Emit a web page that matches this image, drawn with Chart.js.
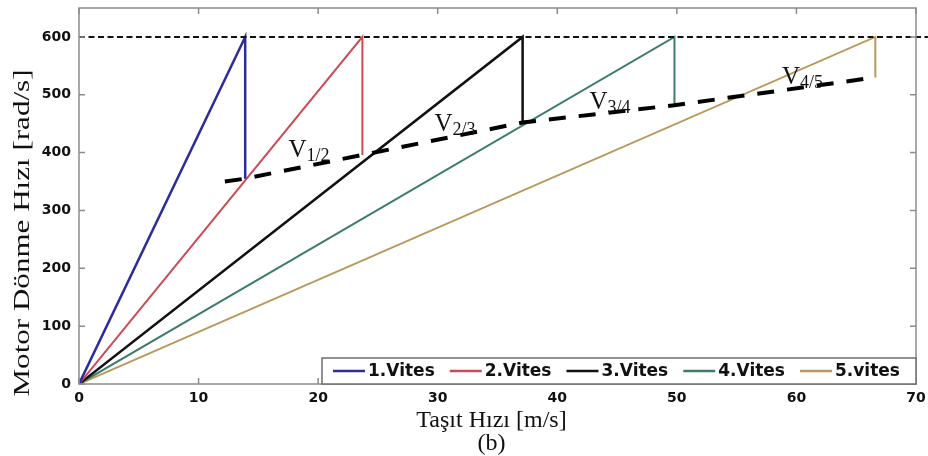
<!DOCTYPE html>
<html>
<head>
<meta charset="utf-8">
<script src="https://cdn.jsdelivr.net/npm/chart.js@4.4.1/dist/chart.umd.min.js"></script>
<style>
  html, body { margin: 0; padding: 0; background: #fff; }
  #wrap { width: 928px; height: 456px; }
</style>
</head>
<body>
<div id="wrap"><canvas id="c"></canvas></div>
<script>
// gears shown in the legend
const gearNames = ['1.Vites', '2.Vites', '3.Vites', '4.Vites', '5.vites'];
// vehicle speed (m/s) at which each gear hits the engine limit
const shiftSpeed = [13.9, 23.7, 37.1, 49.8, 66.6];
// engine speed (rad/s) right after the upshift
const dropOmega = [355, 396, 452, 482, 530];
const omegaMax = 600;
// shift curve through the drop points
const shiftCurveX = [12.2, 13.9, 23.7, 37.1, 49.8, 66.6];
const shiftCurveY = [350, 355, 396, 452, 482, 530];
const shiftLabels = ['1/2', '2/3', '3/4', '4/5'];
const xTicks = [0, 10, 20, 30, 40, 50, 60, 70];
const yTicks = [0, 100, 200, 300, 400, 500, 600];

const gearColors = ['#2c2c9c', '#cc4a52', '#111111', '#3d7b6b', '#b8985c'];
const gearWidths = [2.5, 2, 2.5, 2, 2];

const datasets = gearNames.map((name, i) => ({
  label: name,
  data: [{x: 0, y: 0}, {x: shiftSpeed[i], y: omegaMax}, {x: shiftSpeed[i], y: dropOmega[i]}],
  borderColor: gearColors[i],
  borderWidth: gearWidths[i],
  pointRadius: 0,
  order: 2
}));
// engine speed limit
datasets.push({
  label: 'limit',
  data: [{x: 0, y: omegaMax}, {x: 71, y: omegaMax}],
  borderColor: '#111',
  borderWidth: 2,
  borderDash: [6, 3.5],
  pointRadius: 0,
  clip: false,
  order: 1
});
datasets.push({
  label: 'shift',
  data: shiftCurveX.map((x, i) => ({x: x, y: shiftCurveY[i]})),
  borderColor: '#000',
  borderWidth: 4,
  borderDash: [17, 13],
  pointRadius: 0,
  order: 0
});

// box, inner ticks, titles, shift labels and legend
const decor = {
  id: 'decor',
  afterDraw(chart, args, opts) {
    const ctx = chart.ctx;
    const a = chart.chartArea;
    const xs = chart.scales.x, ys = chart.scales.y;
    ctx.save();

    // frame with inward ticks on all sides
    ctx.strokeStyle = '#8c8c8c';
    ctx.lineWidth = 1.5;
    ctx.strokeRect(a.left, a.top, a.right - a.left, a.bottom - a.top);
    ctx.beginPath();
    xTicks.forEach(v => {
      const px = xs.getPixelForValue(v);
      ctx.moveTo(px, a.bottom); ctx.lineTo(px, a.bottom - 6);
      ctx.moveTo(px, a.top); ctx.lineTo(px, a.top + 6);
    });
    yTicks.forEach(v => {
      const py = ys.getPixelForValue(v);
      ctx.moveTo(a.left, py); ctx.lineTo(a.left + 6, py);
      ctx.moveTo(a.right, py); ctx.lineTo(a.right - 6, py);
    });
    ctx.stroke();

    // axis titles
    ctx.fillStyle = '#111';
    ctx.font = '24px "Liberation Serif"';
    ctx.textAlign = 'center';
    ctx.textBaseline = 'alphabetic';
    const cx = (a.left + a.right) / 2 - 6;
    ctx.fillText('Taşıt Hızı [m/s]', cx, 427);
    ctx.fillText('(b)', cx, 450);

    ctx.save();
    ctx.translate(23, 233);
    ctx.rotate(-Math.PI / 2);
    ctx.font = '23px "Liberation Serif"';
    const yt = 'Motor Dönme Hızı [rad/s]';
    const w = ctx.measureText(yt).width;
    ctx.scale(327 / w, 1);
    ctx.textBaseline = 'middle';
    ctx.fillText(yt, 0, 0);
    ctx.restore();

    // V labels sitting over the shift curve
    ctx.textAlign = 'left';
    ctx.textBaseline = 'alphabetic';
    shiftLabels.forEach((s, k) => {
      const p = opts.anchors[k];
      const x1 = xs.getPixelForValue(shiftCurveX[k + 1]), y1 = ys.getPixelForValue(shiftCurveY[k + 1]);
      const x2 = xs.getPixelForValue(shiftCurveX[k + 2]), y2 = ys.getPixelForValue(shiftCurveY[k + 2]);
      const lx = x1 + p[0] * (x2 - x1);
      const ly = y1 + p[0] * (y2 - y1) + p[1];
      ctx.font = '25px "Liberation Serif"';
      ctx.fillText('V', lx, ly);
      const vw = ctx.measureText('V').width;
      ctx.font = '18px "Liberation Serif"';
      ctx.fillText(s, lx + vw, ly + 4);
    });

    // legend box in the lower right corner
    const lh = 26, lw = 594;
    const lx0 = a.right - lw, ly0 = a.bottom - lh;
    ctx.fillStyle = '#fff';
    ctx.fillRect(lx0, ly0, lw, lh);
    ctx.strokeStyle = '#6e6e6e';
    ctx.lineWidth = 1.5;
    ctx.strokeRect(lx0, ly0, lw, lh);
    ctx.font = 'bold 17px "DejaVu Sans"';
    ctx.textBaseline = 'middle';
    let ex = lx0 + 11;
    const ey = ly0 + lh / 2;
    gearNames.forEach((name, i) => {
      ctx.strokeStyle = gearColors[i];
      ctx.lineWidth = 2.5;
      ctx.beginPath();
      ctx.moveTo(ex, ey); ctx.lineTo(ex + 32, ey);
      ctx.stroke();
      ctx.fillStyle = '#111';
      ctx.fillText(name, ex + 35, ey + 1);
      ex += 35 + ctx.measureText(name).width + 15;
    });
    ctx.restore();
  }
};

new Chart(document.getElementById('c'), {
  type: 'line',
  data: { datasets: datasets },
  options: {
    responsive: true,
    maintainAspectRatio: false,
    animation: false,
    layout: { padding: { top: 8, right: 12, left: 0, bottom: 0 } },
    plugins: {
      legend: { display: false },
      tooltip: { enabled: false },
      decor: { anchors: [[0.37, -13], [0.45, -9], [0.44, -6], [0.535, -6]] }
    },
    scales: {
      x: {
        type: 'linear',
        min: 0, max: 70,
        afterBuildTicks: s => { s.ticks = xTicks.map(v => ({value: v})); },
        afterFit: s => { s.height = 72; s.paddingLeft = 0; s.paddingRight = 0; },
        grid: { display: false, drawTicks: false },
        border: { display: false },
        ticks: { padding: 6, color: '#111', font: { family: 'DejaVu Sans', weight: 'bold', size: 14 } }
      },
      y: {
        type: 'linear',
        min: 0, max: 650,
        afterBuildTicks: s => { s.ticks = yTicks.map(v => ({value: v})); },
        afterFit: s => { s.width = 79; s.paddingTop = 0; s.paddingBottom = 0; },
        grid: { display: false, drawTicks: false },
        border: { display: false },
        ticks: { padding: 8, color: '#111', font: { family: 'DejaVu Sans', weight: 'bold', size: 14 } }
      }
    }
  },
  plugins: [decor]
});
</script>
</body>
</html>
